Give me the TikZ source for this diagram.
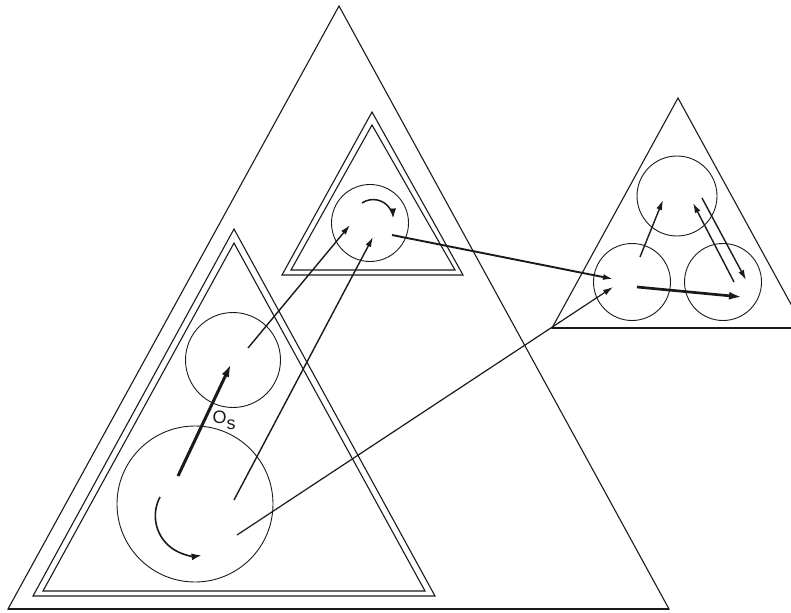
\documentclass[tikz,border=0pt]{standalone}
\usepackage{fontspec}
\setsansfont{Liberation Sans}
\usepackage{tikz}
\usetikzlibrary{arrows.meta}
\definecolor{ink}{HTML}{1A1A1A}

\begin{document}
\begin{tikzpicture}[x=1pt,y=-1pt,ink,
  edge/.style={line width=1.1pt,line join=miter},
  cell/.style={circle,draw,line width=0.9pt,inner sep=0pt},
  link/.style={line width=1.4pt,-{Latex[length=10pt,width=6pt]}},
  boldlink/.style={line width=3pt,-{Latex[length=13pt,width=8pt]}},
  spin/.style={line width=1.6pt,-{Latex[length=10pt,width=7pt]}}]
\useasboundingbox (0,0) rectangle (791,612);
\begin{scope}
\clip (0,0) rectangle (791,612);
% triangles
\draw[edge] (339,6) -- (669,609) -- (8,609) -- cycle;
\draw[edge,line width=2pt] (8,609) -- (669,609);
\draw[edge] (234,229) -- (435,596) -- (33,596) -- cycle;
\draw[edge] (234,243) -- (425,591) -- (43,591) -- cycle;
\draw[edge] (372,112) -- (463,275) -- (282,275) -- cycle;
\draw[edge] (372,125) -- (455,270) -- (291,270) -- cycle;
\draw[edge] (678,98) -- (804,328) -- (552,328) -- cycle;
\draw[edge,line width=1.8pt] (552,328) -- (804,328);
\end{scope}
% circles
\node[cell,minimum size=95pt] (midL) at (233,360) {};
\node[cell,minimum size=156pt] (lowL) at (195,504) {};
\node[cell,minimum size=77pt] (topU) at (370,223) {};
\node[cell,minimum size=80pt] (topR) at (677,196) {};
\node[cell,minimum size=77pt] (leftR) at (632,282) {};
\node[cell,minimum size=77pt] (rightR) at (723,282) {};
\node[font=\sffamily\fontsize{18}{20}\selectfont,inner sep=0pt] (os) at (224,420) {O\raisebox{-6pt}{s}};
% arrow ends
\coordinate (lowA) at (178,476);
\coordinate (lowB) at (234,500);
\coordinate (lowC) at (237,535);
\coordinate (midA) at (231,364);
\coordinate (midB) at (248,348);
\coordinate (upA) at (350,225);
\coordinate (upB) at (373,237);
\coordinate (upC) at (392,235);
\coordinate (lfA) at (613,279);
\coordinate (lfB) at (613,287);
\coordinate (lfC) at (640,257);
\coordinate (lfD) at (637,287);
\coordinate (tpA) at (663,200);
\coordinate (tpB) at (693,203);
\coordinate (tpC) at (702,198);
\coordinate (rtA) at (742,297);
\coordinate (rtB) at (734,282);
\coordinate (rtC) at (746,280);
% arrows
\draw[boldlink] (lowA) -- (midA);
\draw[link] (midB) -- (upA);
\draw[link] (lowB) -- (upB);
\draw[link,line width=1.9pt] (upC) -- (lfA);
\draw[link,line width=1.2pt] (lowC) -- (lfB);
\draw[link] (lfC) -- (tpA);
\draw[boldlink,line width=2.7pt] (lfD) -- (rtA);
\draw[link] (rtB) -- (tpB);
\draw[link] (tpC) -- (rtC);
\draw[spin] (160,497) arc[start angle=208,end angle=81,radius=40];
\draw[spin,line width=1.5pt] (362,203) arc[start angle=236,end angle=357,radius=20];
\end{tikzpicture}
\end{document}
